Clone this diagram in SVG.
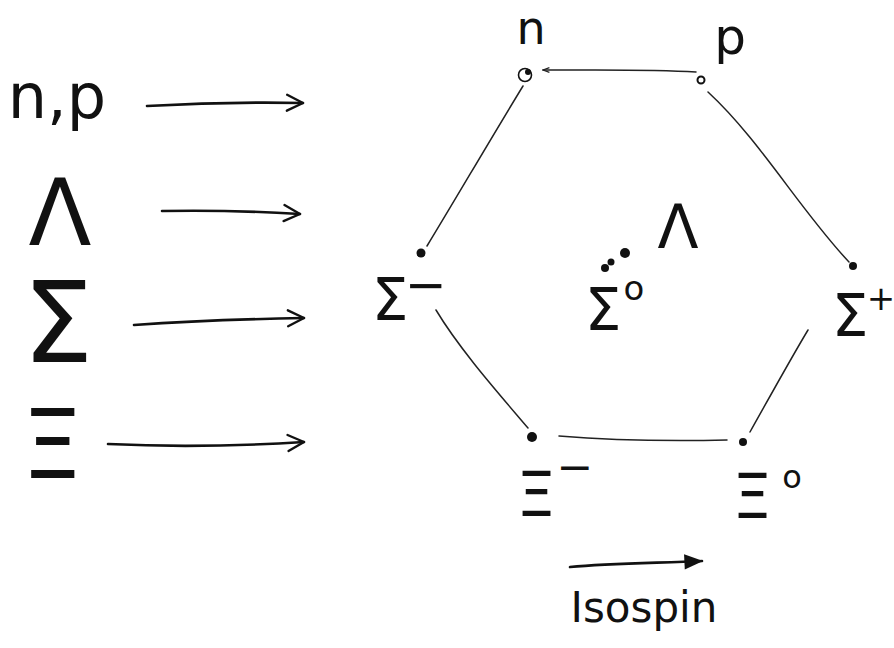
<svg xmlns="http://www.w3.org/2000/svg" width="894" height="648" viewBox="0 0 894 648">
<style>
.t{font-family:"DejaVu Sans","Liberation Sans",sans-serif;fill:#111;text-anchor:middle}
.big{stroke:#111;stroke-width:2.6;fill:none;stroke-linecap:round}
.edge{stroke:#222;stroke-width:1.5;fill:none;stroke-linecap:round}
.dot{fill:#111}
</style>
<defs>
<marker id="open" viewBox="0 0 20 20" refX="18" refY="10" markerWidth="20" markerHeight="20" markerUnits="userSpaceOnUse" orient="auto">
<path d="M2,2 L18,10 L2,18" fill="none" stroke="#111" stroke-width="2.4" stroke-linecap="round" stroke-linejoin="round"/>
</marker>
<marker id="solid" viewBox="0 0 20 20" refX="18" refY="10" markerWidth="22" markerHeight="22" markerUnits="userSpaceOnUse" orient="auto">
<path d="M2,3 L19,10 L2,17 Z" fill="#111"/>
</marker>
<marker id="tiny" viewBox="0 0 10 10" refX="9" refY="5" markerWidth="8" markerHeight="8" markerUnits="userSpaceOnUse" orient="auto">
<path d="M1,2 L9,5 L1,8" fill="none" stroke="#222" stroke-width="1.5"/>
</marker>
</defs>

<g id="legend">
<text class="t" x="57" y="118" font-size="62">n,p</text>
<text class="t" x="60" y="245" font-size="92">Λ</text>
<text class="t" x="58" y="362" font-size="112">Σ</text>
<text class="t" x="52" y="478" font-size="96">Ξ</text>
</g>

<g id="connectors">
<path class="big" d="M147,106 C200,103 250,102 303,103" marker-end="url(#open)"/>
<path class="big" d="M162,211 C210,210 250,211 300,214" marker-end="url(#open)"/>
<path class="big" d="M134,325 C190,321 250,319 304,318" marker-end="url(#open)"/>
<path class="big" d="M108,444 C170,447 240,446 304,442" marker-end="url(#open)"/>
<path class="edge" d="M696,72 C650,69 600,70 543,70" marker-end="url(#tiny)"/>
<path class="edge" d="M523,86 C490,140 455,200 427,246"/>
<path class="edge" d="M708,92 C760,140 800,210 849,262"/>
<path class="edge" d="M436,310 C460,350 500,395 528,428"/>
<path class="edge" d="M808,330 C790,360 768,400 750,432"/>
<path class="edge" d="M559,436 C620,441 680,441 727,440"/>
<path class="big" d="M570,567 C610,563 660,563 702,561" marker-end="url(#solid)"/>
</g>

<g id="n">
<circle cx="525" cy="75" r="6.5" fill="none" stroke="#111" stroke-width="1.6"/>
<circle cx="528" cy="72" r="3" class="dot"/>
<text class="t" x="531" y="44" font-size="46">n</text>
</g>
<g id="p">
<circle cx="701" cy="80" r="3.5" fill="none" stroke="#111" stroke-width="2"/>
<text class="t" x="730" y="54" font-size="50">p</text>
</g>
<g id="sigma-minus">
<circle cx="421" cy="253" r="4.5" class="dot"/>
<text class="t" x="390" y="320" font-size="58">Σ</text>
<text class="t" x="426" y="302" font-size="50">−</text>
</g>
<g id="sigma-zero-lambda">
<circle cx="605" cy="268" r="4" class="dot"/>
<circle cx="611" cy="262" r="3.5" class="dot"/>
<circle cx="625" cy="253" r="5" class="dot"/>
<text class="t" x="603" y="330" font-size="58">Σ</text>
<text class="t" x="634" y="300" font-size="34">o</text>
<text class="t" x="678" y="248" font-size="60">Λ</text>
</g>
<g id="sigma-plus">
<circle cx="853" cy="266" r="4" class="dot"/>
<text class="t" x="850" y="336" font-size="58">Σ</text>
<text class="t" x="881" y="310" font-size="34">+</text>
</g>
<g id="xi-minus">
<circle cx="532" cy="437" r="5" class="dot"/>
<text class="t" x="536" y="516" font-size="62">Ξ</text>
<text class="t" x="575" y="482" font-size="44">−</text>
</g>
<g id="xi-zero">
<circle cx="743" cy="442" r="4" class="dot"/>
<text class="t" x="752" y="518" font-size="62">Ξ</text>
<text class="t" x="792" y="488" font-size="32">o</text>
</g>
<g id="isospin">
<text class="t" x="644" y="622" font-size="42">Isospin</text>
</g>
</svg>
